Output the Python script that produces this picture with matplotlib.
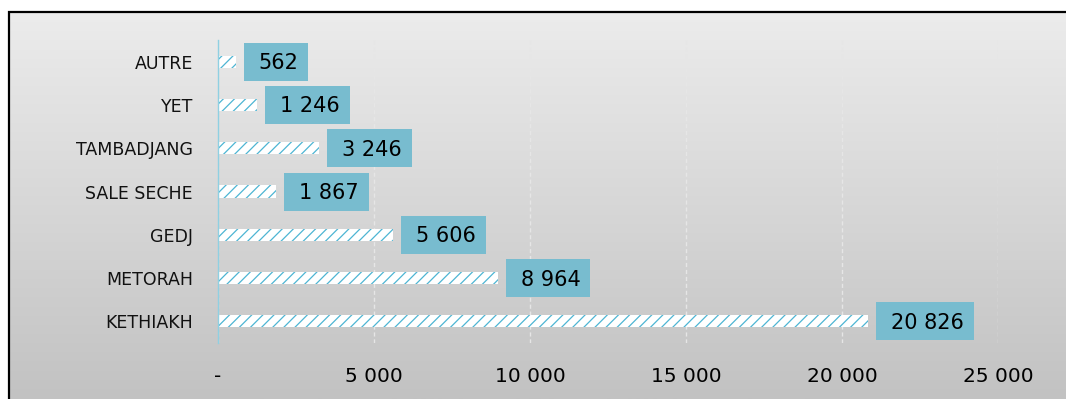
import numpy as np
import matplotlib
matplotlib.use('Agg')
import matplotlib.pyplot as plt
from matplotlib.patches import Rectangle
from matplotlib.ticker import FuncFormatter

plt.rcParams['font.family'] = ['DejaVu Sans']
plt.rcParams['hatch.linewidth'] = 0.9

# données
categories = ['AUTRE', 'YET', 'TAMBADJANG', 'SALE SECHE', 'GEDJ', 'METORAH', 'KETHIAKH']
valeurs = [562, 1246, 3246, 1867, 5606, 8964, 20826]
x_ticks = [0, 5000, 10000, 15000, 20000, 25000]

W, H = 1066, 399
fig = plt.figure(figsize=(W / 100, H / 100), dpi=100)
fig.patch.set_facecolor('white')

# fond dégradé gris dans le cadre
bg = fig.add_axes([0, 0, 1, 1], zorder=-10)
grad = np.linspace(0, 1, 256).reshape(-1, 1)
x0, y1 = 9 / W, 1 - 12 / H
bg.imshow(grad, aspect='auto', cmap=matplotlib.colors.LinearSegmentedColormap.from_list(
    'g', ['#ECECEC', '#C2C2C2']), extent=[x0, 1, 0, y1], origin='upper')
bg.set_xlim(0, 1)
bg.set_ylim(0, 1)
bg.axis('off')
# cadre noir (coupé à droite et en bas)
bg.add_patch(Rectangle((x0, -0.1), 1.2, y1 + 0.1, fill=False,
                       edgecolor='black', linewidth=1.6, zorder=5))

ax = fig.add_axes([218 / W, 1 - 343 / H, (998 - 218) / W, (343 - 40) / H])
ax.patch.set_alpha(0)

y = np.arange(len(categories))
ax.barh(y, valeurs, height=0.28, color='white', edgecolor='#4DB5D3', linewidth=0,
        hatch='///', zorder=3)

# étiquettes de valeur dans des boîtes bleues
gap, pad_l, pad_r, box_h = 8, 15, 10, 38
textes = []
for yi, v in zip(y, valeurs):
    t = ax.annotate(f'{v:,}'.replace(',', ' '), xy=(v, yi),
                    xytext=((gap + pad_l) * 0.72, -5.4),
                    textcoords='offset points', ha='left', va='baseline',
                    fontsize=15, color='black', zorder=6)
    textes.append((t, v, yi))

ax.set_xlim(0, 25000)
ax.set_ylim(len(categories) - 0.5, -0.5)

fig.canvas.draw()
r = fig.canvas.get_renderer()
for t, v, yi in textes:
    bb = t.get_window_extent(r)
    px0 = ax.transData.transform((v, yi))
    left = px0[0] + gap
    right = bb.x1 + pad_r
    ax.add_patch(Rectangle((left / W, (px0[1] - box_h / 2) / H),
                           (right - left) / W, box_h / H,
                           transform=fig.transFigure, facecolor='#78BCCF',
                           edgecolor='none', zorder=5, clip_on=False))

ax.set_yticks(y)
ax.set_yticklabels(categories, fontsize=12.5)
ax.set_xticks(x_ticks)
ax.xaxis.set_major_formatter(FuncFormatter(
    lambda v, p: '-' if v == 0 else f'{int(v):,}'.replace(',', ' ')))
ax.tick_params(axis='x', length=0, labelsize=14.5, pad=17)
ax.tick_params(axis='y', length=0, pad=18)
for lbl in ax.get_yticklabels():
    lbl.set_color('#111111')

ax.grid(axis='x', color='#E6E6E6', linestyle=(0, (3, 2)), linewidth=1)
ax.set_axisbelow(True)
for s in ['top', 'right', 'bottom']:
    ax.spines[s].set_visible(False)
ax.spines['left'].set_color('#8FD0E2')
ax.spines['left'].set_linewidth(1)
ax.spines['left'].set_zorder(4)

fig.savefig('out.png', dpi=100)
